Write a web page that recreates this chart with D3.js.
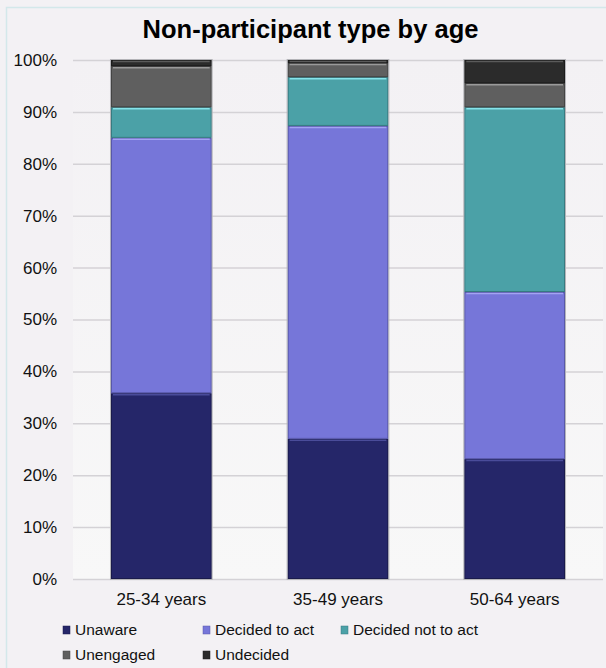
<!DOCTYPE html>
<html>
<head>
<meta charset="utf-8">
<script src="https://cdn.jsdelivr.net/npm/d3@7"></script>
<style>
  html, body { margin: 0; padding: 0; background: #f3f1f4; }
  svg { display: block; font-family: "Liberation Sans", Arial, sans-serif; }
</style>
</head>
<body>
<svg id="chart" width="606" height="668"></svg>
<script>
// Age groups and the share of each non-participant type (percent)
const categories = ["25-34 years", "35-49 years", "50-64 years"];
const seriesNames = ["Unaware", "Decided to act", "Decided not to act", "Unengaged", "Undecided"];
const unaware          = [35.8, 27.0, 23.1];
const decidedToAct     = [49.2, 60.3, 32.2];
const decidedNotToAct  = [5.9, 9.4, 35.6];
const unengaged        = [7.9, 2.7, 4.6];
const undecided        = [1.2, 0.6, 4.5];
const yTicks = [0, 10, 20, 30, 40, 50, 60, 70, 80, 90, 100];

const colors    = ["#252669", "#7676d9", "#4ba1a7", "#5f5f5f", "#2b2b2b"];
const highlight = ["#4a4c9a", "#a3a3f2", "#86e3ea", "#9a9a9a", "#5a5a5a"];
const shade     = ["#1a1b4c", "#5858a8", "#377a80", "#454545", "#1c1c1c"];

const seriesValues = [unaware, decidedToAct, decidedNotToAct, unengaged, undecided];
const rows = categories.map((c, i) => {
  const r = { category: c };
  seriesNames.forEach((s, k) => r[s] = seriesValues[k][i]);
  return r;
});

const svg = d3.select("#chart");
const W = 606, H = 668;

// outer frame
svg.append("rect").attr("x", 0).attr("y", 0).attr("width", W).attr("height", H).attr("fill", "#f3f1f4");
svg.append("rect").attr("x", 6.5).attr("y", 7.5).attr("width", W).attr("height", H)
  .attr("fill", "#f3f1f4").attr("stroke", "#d3e8ea").attr("stroke-width", 1.5);

// plot background gradient
const defs = svg.append("defs");
const bg = defs.append("linearGradient").attr("id", "plotbg").attr("x1", 0).attr("y1", 0).attr("x2", 0).attr("y2", 1);
bg.append("stop").attr("offset", "0%").attr("stop-color", "#f3f1f4");
bg.append("stop").attr("offset", "100%").attr("stop-color", "#f8f8f8");

const plot = { left: 73, right: 603, top: 60, bottom: 579 };
svg.append("rect").attr("x", plot.left).attr("y", plot.top)
  .attr("width", plot.right - plot.left).attr("height", plot.bottom - plot.top)
  .attr("fill", "url(#plotbg)");

const x = d3.scaleBand().domain(categories).range([plot.left, plot.right]).paddingInner(0.43).paddingOuter(0.215);
const y = d3.scaleLinear().domain([0, 100]).range([plot.bottom, plot.top]);

// title
svg.append("text").attr("x", 310.5).attr("y", 38).attr("text-anchor", "middle")
  .attr("font-size", 25.5).attr("font-weight", "bold").attr("fill", "#000")
  .text("Non-participant type by age");

// gridlines and y axis labels
const yAxis = d3.axisLeft(y).tickValues(yTicks).tickFormat(d => d + "%")
  .tickSize(-(plot.right - plot.left)).tickPadding(16);
const ya = svg.append("g").attr("transform", `translate(${plot.left},0)`).call(yAxis);
ya.select(".domain").remove();
ya.selectAll(".tick line").attr("stroke", "#d4d2d6").attr("stroke-width", 1.5);
ya.selectAll(".tick text").attr("font-size", 17).attr("fill", "#111")
  .attr("font-family", "'Liberation Sans', Arial, sans-serif");

// x axis labels
const xAxis = d3.axisBottom(x).tickSize(0).tickPadding(14);
const xa = svg.append("g").attr("transform", `translate(0,${plot.bottom})`).call(xAxis);
xa.select(".domain").remove();
xa.selectAll(".tick text").attr("font-size", 17).attr("fill", "#111")
  .attr("font-family", "'Liberation Sans', Arial, sans-serif");

// stacked bars
const stack = d3.stack().keys(seriesNames)(rows);
const layers = svg.append("g").selectAll("g").data(stack).join("g");

layers.each(function(layer, k) {
  const g = d3.select(this);
  layer.forEach(d => {
    const x0 = x(d.data.category), bw = x.bandwidth();
    const yTop = y(d[1]), yBot = y(d[0]);
    const h = yBot - yTop;
    g.append("rect").attr("x", x0).attr("y", yTop).attr("width", bw).attr("height", h)
      .attr("fill", colors[k]);
    // bevel: darker edges and a bright top edge
    g.append("rect").attr("x", x0 + 0.5).attr("y", yTop + 0.5).attr("width", bw - 1).attr("height", Math.max(h - 1, 0))
      .attr("fill", "none").attr("stroke", shade[k]).attr("stroke-width", 1);
    if (h > 3) {
      g.append("line").attr("x1", x0 + 2).attr("x2", x0 + bw - 2)
        .attr("y1", yTop + 1.5).attr("y2", yTop + 1.5)
        .attr("stroke", highlight[k]).attr("stroke-width", 1.5);
    }
  });
});

// bar outlines
svg.append("g").selectAll("rect").data(categories).join("rect")
  .attr("x", d => x(d) - 0.5).attr("y", y(100) - 0.5)
  .attr("width", x.bandwidth() + 1).attr("height", y(0) - y(100) + 1)
  .attr("fill", "none").attr("stroke", "#b4b4b8").attr("stroke-width", 1);

// legend
const legendPos = [[63, 630], [203, 630], [341, 630], [63, 655], [203, 655]];
const lg = svg.append("g").selectAll("g").data(seriesNames).join("g")
  .attr("transform", (d, i) => `translate(${legendPos[i][0]},${legendPos[i][1]})`);
lg.append("rect").attr("x", 0).attr("y", -4).attr("width", 7).attr("height", 8)
  .attr("fill", (d, i) => colors[i]).attr("stroke", (d, i) => shade[i]).attr("stroke-width", 0.5);
lg.append("text").attr("x", 12).attr("y", 0).attr("dy", "0.35em")
  .attr("font-size", 15.5).attr("fill", "#111").text(d => d);
</script>
</body>
</html>
